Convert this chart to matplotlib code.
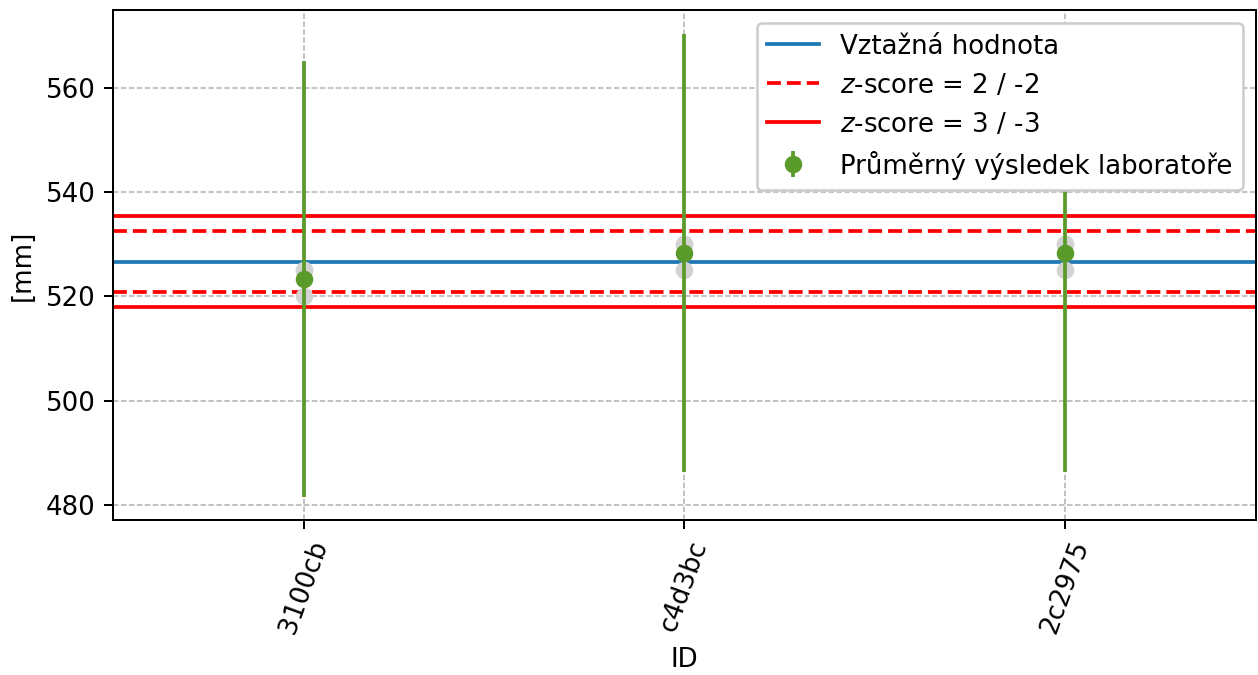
import matplotlib
matplotlib.use('Agg')
import matplotlib.pyplot as plt
import numpy as np

plt.rcParams['font.size'] = 10.4

# lab IDs and their individual results [mm]
lab_ids = ['3100cb', 'c4d3bc', '2c2975']
lab_results = [[525, 525, 520], [530, 530, 525], [530, 530, 525]]
lab_uncert = [41.8, 42.1, 42.1]

ref_value = 526.7
ref_sigma = 2.91

green = '#5a9a2a'


def plot_results():
    fig, ax = plt.subplots(figsize=(6.99, 3.75), dpi=180)
    fig.subplots_adjust(left=0.09, right=0.998, top=0.985, bottom=0.23)

    x = np.arange(len(lab_ids))
    means = [np.mean(r) for r in lab_results]

    ax.axhline(ref_value, color='#1f77b4', lw=1.5, label='Vztažná hodnota')
    ax.axhline(ref_value + 2 * ref_sigma, color='red', ls='--', lw=1.5,
               label='$z$-score = 2 / -2')
    ax.axhline(ref_value - 2 * ref_sigma, color='red', ls='--', lw=1.5)
    ax.axhline(ref_value + 3 * ref_sigma, color='red', lw=1.5,
               label='$z$-score = 3 / -3')
    ax.axhline(ref_value - 3 * ref_sigma, color='red', lw=1.5)

    for xi, res in zip(x, lab_results):
        ax.plot([xi] * len(res), res, 'o', color='lightgray', ms=6, zorder=2.5)

    ax.errorbar(x, means, yerr=lab_uncert, fmt='o', color=green, ms=6,
                lw=1.5, zorder=3, label='Průměrný výsledek laboratoře')

    ax.set_xticks(x)
    ax.set_xticklabels(lab_ids, rotation=70)
    ax.set_xlim(-0.5, len(lab_ids) - 0.5)
    ax.set_ylim(477.1, 575)
    ax.set_yticks([480, 500, 520, 540, 560])
    ax.grid(True, linestyle='--', color='#b0b0b0', lw=0.6)
    ax.set_axisbelow(True)
    ax.set_xlabel('ID')
    ax.set_ylabel('[mm]')
    ax.legend(loc='upper right', framealpha=1)

    fig.savefig('out.png', dpi=180)


if __name__ == "__main__":
    plot_results()
